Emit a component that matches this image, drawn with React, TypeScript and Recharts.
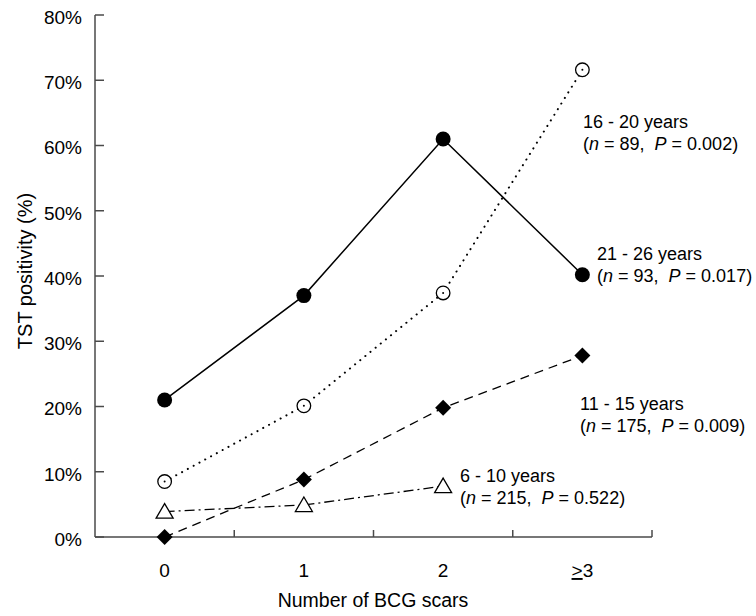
import { Line, LineChart, XAxis, YAxis } from "recharts";

const categories = ["0", "1", "2", ">3"];
const xValues = [0, 1, 2, 3];
const age21to26 = [21.0, 37.0, 61.0, 40.2];
const age16to20 = [8.5, 20.1, 37.4, 71.6];
const age11to15 = [0, 8.8, 19.8, 27.8];
const age6to10 = [3.9, 4.9, 7.8, null];
const yTicks = [0, 10, 20, 30, 40, 50, 60, 70, 80];
const xTicks = [0, 0.5, 1, 1.5, 2, 2.5, 3, 3.5];

const groupNames = ["16 - 20 years", "21 - 26 years", "11 - 15 years", "6 - 10 years"];
const groupN = ["89", "93", "175", "215"];
const groupP = ["0.002", "0.017", "0.009", "0.522"];

const data = xValues.map((x, i) => ({
  x,
  label: categories[i],
  a21: age21to26[i],
  a16: age16to20[i],
  a11: age11to15[i],
  a6: age6to10[i],
}));

const FONT = "'Liberation Sans', Arial, sans-serif";
const AXIS = "#4a4a4a";

const W = 756;
const H = 616;
const M = { top: 15, right: 104, bottom: 0, left: 0 };
const Y_W = 95;
const X_H = 79;

function XTick(props: any) {
  const { x, y, payload } = props;
  const v = payload.value as number;
  if (v % 1 !== 0) {
    return <line x1={x} y1={y} x2={x} y2={y - 7} stroke={AXIS} strokeWidth={1.5} />;
  }
  const lab = categories[v];
  return (
    <text x={x} y={y + 40} textAnchor="middle" fontFamily={FONT} fontSize={19} fill="#000">
      {lab === ">3" ? (
        <>
          <tspan textDecoration="underline">&gt;</tspan>3
        </>
      ) : (
        lab
      )}
    </text>
  );
}

function YTick(props: any) {
  const { x, y, payload } = props;
  return (
    <g>
      <line x1={x} y1={y} x2={x + 9} y2={y} stroke={AXIS} strokeWidth={1.5} />
      <text x={x - 13} y={y + 2} dy="0.36em" textAnchor="end" fontFamily={FONT} fontSize={19} fill="#000">
        {`${payload.value}%`}
      </text>
    </g>
  );
}

const filledCircle = (p: any) =>
  p.cy == null ? <g key={p.key} /> : <circle key={p.key} cx={p.cx} cy={p.cy} r={7.5} fill="#000" />;

const openCircle = (p: any) =>
  p.cy == null ? (
    <g key={p.key} />
  ) : (
    <g key={p.key}>
      <circle cx={p.cx} cy={p.cy} r={6.8} fill="#fff" stroke="#000" strokeWidth={1.3} />
      <circle cx={p.cx} cy={p.cy} r={1} fill="#000" />
    </g>
  );

const diamond = (p: any) =>
  p.cy == null ? (
    <g key={p.key} />
  ) : (
    <path
      key={p.key}
      d={`M${p.cx},${p.cy - 8}L${p.cx + 8},${p.cy}L${p.cx},${p.cy + 8}L${p.cx - 8},${p.cy}Z`}
      fill="#000"
    />
  );

const triangle = (p: any) =>
  p.cy == null ? (
    <g key={p.key} />
  ) : (
    <path
      key={p.key}
      d={`M${p.cx},${p.cy - 8}L${p.cx + 8.5},${p.cy + 6.5}L${p.cx - 8.5},${p.cy + 6.5}Z`}
      fill="#fff"
      stroke="#000"
      strokeWidth={1.3}
    />
  );

// annotation anchor points (text x, first line centre y)
const notePos = [
  [583, 122],
  [597, 254],
  [580, 404],
  [460, 476],
];

function Note({ i }: { i: number }) {
  const [x, y] = notePos[i];
  return (
    <text fontFamily={FONT} fontSize={18} fill="#000">
      <tspan x={x} y={y} dy="0.36em">
        {groupNames[i]}
      </tspan>
      <tspan x={x} y={y + 22} dy="0.36em">
        (
      </tspan>
      <tspan fontStyle="italic">n</tspan>
      <tspan>{` = ${groupN[i]},`}</tspan>
      <tspan dx={10} fontStyle="italic">
        P
      </tspan>
      <tspan>{` = ${groupP[i]})`}</tspan>
    </text>
  );
}

export default function App() {
  return (
    <div style={{ position: "absolute", left: 0, top: 0, width: W, height: H, background: "#fff" }}>
      <LineChart width={W} height={H} data={data} margin={M}>
        <XAxis
          dataKey="x"
          type="number"
          domain={[-0.5, 3.5]}
          ticks={xTicks}
          interval={0}
          height={X_H}
          tickLine={false}
          tickSize={0}
          tickMargin={0}
          tick={<XTick />}
          stroke={AXIS}
          strokeWidth={1.5}
        />
        <YAxis
          type="number"
          domain={[0, 80]}
          ticks={yTicks}
          interval={0}
          width={Y_W}
          tickLine={false}
          tickSize={0}
          tickMargin={0}
          tick={<YTick />}
          stroke={AXIS}
          strokeWidth={1.5}
        />
        <Line
          dataKey="a21"
          stroke="#000"
          strokeWidth={1.5}
          dot={filledCircle}
          isAnimationActive={false}
        />
        <Line
          dataKey="a16"
          stroke="#000"
          strokeWidth={2}
          strokeDasharray="0.1 6.5"
          strokeLinecap="round"
          dot={openCircle}
          isAnimationActive={false}
        />
        <Line
          dataKey="a11"
          stroke="#000"
          strokeWidth={1.3}
          strokeDasharray="9 6"
          dot={diamond}
          isAnimationActive={false}
        />
        <Line
          dataKey="a6"
          stroke="#000"
          strokeWidth={1.3}
          strokeDasharray="10 4 2 4"
          dot={triangle}
          isAnimationActive={false}
        />
        {[0, 1, 2, 3].map((i) => (
          <Note key={i} i={i} />
        ))}
        <text
          x={373}
          y={600}
          dy="0.36em"
          textAnchor="middle"
          fontFamily={FONT}
          fontSize={19.5}
          fill="#000"
        >
          Number of BCG scars
        </text>
        <text
          transform="translate(25,271) rotate(-90)"
          dy="0.36em"
          textAnchor="middle"
          fontFamily={FONT}
          fontSize={20}
          fill="#000"
        >
          TST positivity (%)
        </text>
      </LineChart>
    </div>
  );
}
